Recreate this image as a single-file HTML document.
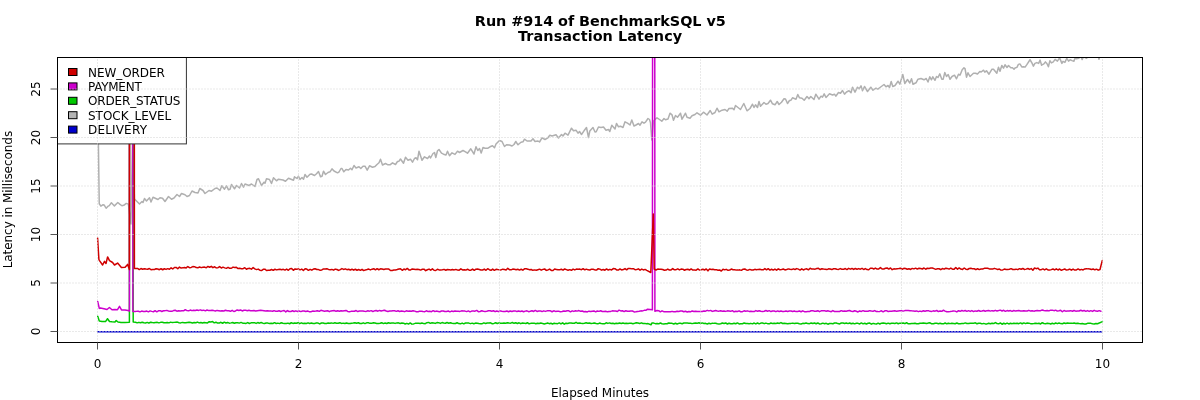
<!DOCTYPE html>
<html><head><meta charset="utf-8"><title>Transaction Latency</title>
<style>html,body{margin:0;padding:0;background:#fff;width:1200px;height:400px;overflow:hidden}svg{display:block}</style>
</head><body>
<svg width="1200" height="400" viewBox="0 0 1200 400">
<rect width="1200" height="400" fill="#fff"/>
<defs><clipPath id="c"><rect x="57.5" y="57.5" width="1085" height="285"/></clipPath></defs>
<g clip-path="url(#c)" stroke-linejoin="round" stroke-linecap="round" fill="none" stroke-width="1.5">
<path d="M97.60,87.00 L99.25,203.75 L100.90,206.10 L103.10,204.70 L104.40,205.30 L106.10,208.25 L107.80,206.40 L109.25,205.60 L111.40,202.80 L114.40,205.90 L117.80,202.50 L120.00,204.40 L121.90,205.75 L123.75,205.30 L126.25,203.40 L128.40,204.10 L130.90,224.00 L132.60,135.00 L134.50,200.50 L135.00,199.50 L139.50,204.00 L142.00,201.50 L143.00,202.50 L144.50,198.50 L146.50,201.00 L149.50,197.80 L151.00,202.00 L153.00,197.20 L158.00,199.50 L160.00,197.80 L162.50,198.20 L165.00,201.50 L168.50,196.50 L171.50,199.20 L174.00,198.00 L177.00,194.50 L179.50,196.50 L181.50,193.50 L185.00,194.80 L187.00,196.50 L189.50,195.50 L192.00,191.00 L195.00,192.50 L198.00,193.00 L199.80,188.50 L203.00,190.50 L205.00,193.50 L209.00,190.50 L211.50,191.20 L215.00,188.50 L217.00,188.00 L220.00,190.50 L221.80,185.80 L224.50,189.20 L226.50,185.80 L228.50,189.80 L230.00,189.20 L231.50,184.50 L234.50,188.80 L236.50,185.50 L239.50,188.00 L241.50,183.50 L243.50,187.20 L245.00,184.00 L249.00,185.50 L251.50,184.00 L255.00,186.50 L257.00,179.50 L258.50,178.80 L261.50,185.50 L264.00,182.20 L265.00,183.20 L266.50,178.80 L269.50,179.50 L271.50,183.50 L273.50,177.80 L276.50,180.80 L278.50,179.20 L283.00,180.00 L285.50,181.20 L288.50,178.20 L293.50,180.20 L294.50,176.80 L297.00,178.50 L298.50,176.20 L300.00,179.50 L302.00,177.50 L303.50,179.20 L305.00,174.50 L307.00,177.20 L310.00,174.20 L311.50,174.00 L314.50,175.50 L316.50,173.80 L318.50,171.50 L320.50,176.80 L322.00,176.20 L323.50,171.20 L325.50,174.50 L328.00,172.50 L330.00,171.80 L332.00,168.80 L334.00,171.00 L337.50,172.80 L339.00,172.00 L341.00,168.50 L342.00,168.50 L343.80,171.80 L346.00,169.50 L348.50,170.00 L350.50,168.20 L352.00,169.80 L354.00,165.50 L356.00,168.00 L359.00,166.80 L360.80,168.50 L363.00,166.20 L365.00,166.20 L367.20,170.20 L369.50,165.80 L372.50,167.20 L375.00,166.60 L377.00,164.50 L379.00,162.80 L380.50,159.20 L382.50,165.00 L385.50,163.50 L388.00,164.80 L390.00,164.80 L392.50,162.80 L395.50,164.50 L397.50,161.50 L399.00,161.20 L400.50,159.00 L403.50,163.20 L405.50,157.20 L408.00,160.20 L410.50,159.20 L412.50,162.20 L414.50,158.50 L416.00,157.80 L417.50,159.80 L419.00,151.20 L422.00,160.20 L424.50,156.80 L427.50,158.50 L429.50,156.00 L430.50,158.00 L433.00,153.50 L434.50,152.50 L435.80,157.50 L437.50,150.80 L439.00,149.50 L441.50,153.20 L443.50,154.20 L446.00,155.00 L447.50,151.20 L449.50,155.80 L452.00,152.80 L455.00,154.40 L457.50,151.20 L459.50,152.50 L463.00,150.50 L465.50,151.80 L467.50,153.20 L470.80,148.80 L474.00,154.00 L476.00,146.80 L477.80,150.50 L479.50,148.50 L481.20,153.00 L483.00,147.50 L485.00,148.20 L488.00,148.20 L490.00,146.80 L492.50,145.80 L494.50,147.80 L496.00,144.00 L499.50,140.50 L502.00,141.50 L504.50,146.50 L506.50,144.80 L509.50,145.00 L512.00,146.00 L514.00,144.50 L515.80,141.50 L518.00,144.80 L521.00,142.20 L523.00,141.80 L524.50,139.20 L527.00,141.00 L531.00,141.00 L533.00,138.80 L535.00,141.50 L538.00,141.00 L539.50,142.00 L542.00,137.80 L545.00,139.50 L547.50,138.20 L549.80,135.20 L552.00,136.00 L556.00,134.80 L558.50,138.00 L561.50,134.50 L563.00,136.00 L565.00,133.20 L568.00,135.20 L571.50,128.20 L573.50,130.80 L576.00,130.20 L578.00,133.20 L579.50,131.50 L581.50,134.50 L584.00,130.80 L586.50,127.50 L588.50,137.50 L589.80,131.00 L593.00,127.50 L595.00,132.00 L596.20,131.80 L598.50,127.00 L601.00,127.50 L603.50,127.00 L606.00,130.20 L608.50,129.50 L609.80,131.50 L611.80,125.20 L615.00,129.00 L616.50,123.50 L618.50,126.80 L620.50,126.20 L623.00,127.50 L625.00,121.80 L627.50,123.20 L630.00,125.00 L631.80,120.00 L634.00,126.00 L636.00,125.00 L638.50,123.50 L640.00,125.20 L642.00,121.80 L644.00,123.20 L645.50,122.20 L648.00,118.50 L649.50,119.50 L650.50,122.80 L651.80,140.00 L653.50,121.00 L654.50,120.00 L657.00,117.80 L659.50,119.50 L661.80,121.20 L664.00,118.50 L665.50,119.80 L668.00,119.00 L670.00,113.20 L672.00,114.80 L673.50,120.20 L675.50,115.50 L677.50,117.20 L680.50,113.20 L682.00,119.20 L685.50,113.20 L687.00,117.20 L690.00,118.20 L692.00,115.80 L695.00,114.50 L697.00,112.80 L700.50,115.20 L703.50,112.20 L707.00,115.00 L710.20,110.50 L712.20,114.20 L715.00,112.50 L717.00,108.20 L719.00,111.80 L722.00,110.20 L725.00,109.50 L727.20,111.20 L729.00,108.50 L732.50,108.20 L734.00,109.80 L735.50,105.50 L740.50,109.50 L743.80,103.50 L747.00,110.80 L750.00,108.50 L752.50,104.20 L754.00,107.50 L755.50,104.80 L757.50,107.50 L759.00,101.50 L760.50,106.20 L764.00,102.50 L766.00,104.20 L768.00,103.50 L770.50,100.20 L772.50,103.80 L775.00,104.80 L777.20,101.50 L779.00,104.50 L781.50,102.20 L784.00,98.80 L785.50,99.00 L787.50,103.50 L789.50,100.50 L791.00,100.20 L792.50,97.80 L796.00,99.20 L797.80,94.50 L799.50,97.80 L802.00,98.20 L804.20,100.20 L807.00,96.50 L809.00,98.80 L810.80,96.50 L814.00,99.50 L815.80,94.20 L819.00,99.20 L821.00,96.20 L822.50,97.20 L824.20,93.80 L826.00,97.50 L829.50,93.80 L832.50,95.00 L834.50,94.20 L835.80,96.20 L838.50,92.50 L840.50,93.20 L842.50,90.50 L844.50,94.20 L846.50,92.00 L849.00,90.80 L851.00,92.80 L852.50,87.20 L855.00,92.10 L857.50,87.20 L859.20,88.80 L861.00,85.80 L862.50,90.80 L864.50,86.50 L867.50,91.50 L870.80,87.20 L873.00,90.20 L876.00,88.20 L877.80,89.20 L880.00,87.50 L884.00,84.50 L886.00,86.80 L888.00,85.50 L889.50,87.50 L891.20,81.50 L892.80,86.50 L895.00,85.50 L898.00,81.20 L899.80,84.20 L902.80,74.50 L904.80,83.50 L907.50,79.50 L909.80,83.00 L911.50,78.80 L913.00,84.20 L916.00,82.80 L918.00,79.20 L921.00,78.50 L924.00,79.80 L926.20,78.50 L928.00,82.00 L929.80,76.80 L931.50,79.80 L932.80,76.80 L935.00,80.30 L936.50,76.50 L938.00,77.50 L939.80,73.80 L941.80,79.20 L943.20,79.20 L944.80,72.50 L946.50,76.50 L948.20,74.50 L950.00,79.20 L952.00,76.50 L954.50,75.20 L956.50,78.80 L958.50,74.20 L960.00,75.20 L962.20,69.80 L964.00,67.80 L965.00,68.50 L966.50,77.20 L968.00,72.80 L970.00,76.50 L973.50,73.20 L975.50,73.20 L977.50,74.00 L979.80,71.50 L981.20,72.00 L983.50,70.20 L984.80,72.20 L986.50,70.80 L989.00,74.20 L992.00,69.20 L993.50,69.20 L996.80,73.20 L998.50,67.20 L1000.00,71.20 L1001.80,65.50 L1003.50,68.20 L1005.00,64.80 L1007.00,67.50 L1008.50,65.50 L1010.80,67.80 L1012.50,67.80 L1014.00,69.20 L1015.00,68.00 L1016.90,67.40 L1018.40,64.40 L1019.90,63.90 L1021.80,66.90 L1023.60,66.70 L1025.10,67.10 L1027.00,64.40 L1030.00,59.75 L1031.90,62.90 L1033.40,66.10 L1034.90,63.40 L1036.80,62.60 L1038.60,63.40 L1040.10,60.10 L1041.60,65.20 L1043.90,63.90 L1045.40,61.90 L1046.90,63.50 L1048.40,66.70 L1049.90,60.65 L1051.40,62.90 L1053.30,61.90 L1055.10,59.40 L1057.40,61.10 L1059.60,57.90 L1061.90,63.40 L1063.00,61.40 L1064.90,62.40 L1066.80,58.40 L1068.60,61.10 L1070.10,59.75 L1072.00,60.65 L1073.90,61.25 L1075.00,58.25 L1076.50,58.85 L1078.80,58.25 L1081.00,56.50 L1082.10,59.60 L1083.60,56.50 L1085.00,57.50 L1086.60,58.30 L1088.10,56.00 L1090.00,53.50 L1092.00,55.50 L1094.00,53.50 L1096.00,55.00 L1098.00,55.50 L1099.00,59.20 L1100.20,55.00 L1102.50,54.00" stroke="#b0b0b0"/>
<path d="M97.80,331.75 L1101.50,331.75" stroke="#0000cd" stroke-width="1.7"/>
<path d="M97.70,316.25 L99.30,321.10 L102.00,321.40 L105.50,321.60 L107.50,318.70 L109.50,321.50 L112.00,321.80 L115.00,322.00 L116.20,320.60 L118.00,322.00 L121.00,322.50 L125.00,322.40 L129.40,322.30 L129.70,-300.00 L132.60,-300.00 L133.20,321.90 L135.50,322.22 L137.18,322.87 L138.85,322.36 L140.53,322.79 L142.20,322.28 L143.88,322.82 L145.55,322.93 L147.23,322.39 L148.90,323.18 L150.58,322.22 L152.25,322.57 L153.93,322.75 L155.60,322.44 L157.28,322.35 L158.95,322.91 L160.63,322.37 L162.30,322.31 L163.98,322.84 L165.65,322.76 L167.33,322.48 L169.00,322.86 L170.68,322.13 L172.35,322.61 L174.03,322.38 L175.70,322.18 L177.38,322.12 L179.05,322.76 L180.73,322.91 L182.40,322.38 L184.08,322.80 L185.75,322.77 L187.43,322.43 L189.10,322.19 L190.78,322.56 L192.45,323.07 L194.13,322.53 L195.80,322.81 L197.48,322.10 L199.15,322.88 L200.83,322.48 L202.50,323.06 L204.18,322.46 L205.85,322.64 L207.53,322.91 L209.20,321.73 L210.88,321.94 L212.55,321.58 L214.23,322.83 L215.90,322.19 L217.58,323.10 L219.25,323.12 L220.93,322.29 L222.60,323.24 L224.28,322.19 L225.95,323.01 L227.63,322.52 L229.30,323.15 L230.98,322.88 L232.65,322.54 L234.33,323.29 L236.00,322.68 L237.68,322.79 L239.35,323.12 L241.03,322.40 L242.70,323.16 L244.38,323.16 L246.05,323.39 L247.73,322.58 L249.40,323.48 L251.08,322.85 L252.75,322.86 L254.43,322.64 L256.10,323.39 L257.78,322.57 L259.45,323.17 L261.13,322.54 L262.80,323.17 L264.48,323.44 L266.15,322.95 L267.83,323.12 L269.50,323.51 L271.18,323.21 L272.85,323.45 L274.53,322.69 L276.20,323.51 L277.88,323.14 L279.55,323.61 L281.23,322.77 L282.90,323.21 L284.58,323.54 L286.25,323.53 L287.93,323.14 L289.60,323.74 L291.28,322.75 L292.95,323.42 L294.63,322.95 L296.30,323.20 L297.98,322.67 L299.65,323.70 L301.33,322.87 L303.00,323.45 L304.68,323.14 L306.35,323.42 L308.03,322.86 L309.70,323.46 L311.38,323.09 L313.05,323.49 L314.73,323.42 L316.40,322.87 L318.08,323.09 L319.75,323.95 L321.43,323.01 L323.10,323.06 L324.78,323.42 L326.45,323.53 L328.13,323.10 L329.80,323.34 L331.48,322.90 L333.15,323.36 L334.83,322.73 L336.50,323.23 L338.18,323.30 L339.85,322.78 L341.53,323.39 L343.20,323.13 L344.88,323.55 L346.55,322.95 L348.23,323.43 L349.90,323.52 L351.58,323.19 L353.25,323.06 L354.93,322.69 L356.60,323.26 L358.28,322.72 L359.95,323.52 L361.63,323.47 L363.30,322.84 L364.98,323.62 L366.65,322.84 L368.33,322.81 L370.00,323.37 L371.68,323.37 L373.35,322.75 L375.03,323.05 L376.70,323.49 L378.38,323.60 L380.05,323.30 L381.73,322.68 L383.40,323.62 L385.08,323.09 L386.75,323.54 L388.43,322.81 L390.10,323.23 L391.78,322.90 L393.45,322.99 L395.13,323.39 L396.80,322.88 L398.48,322.85 L400.15,323.43 L401.83,323.07 L403.50,323.14 L405.18,323.95 L406.85,323.37 L408.53,324.04 L410.20,322.98 L411.88,324.13 L413.55,323.91 L415.23,323.37 L416.90,323.30 L418.58,323.24 L420.25,323.49 L421.93,323.04 L423.60,323.62 L425.28,323.69 L426.95,322.72 L428.63,322.38 L430.30,323.34 L431.98,322.79 L433.65,322.91 L435.33,323.40 L437.00,322.59 L438.68,322.68 L440.35,323.38 L442.03,322.60 L443.70,323.02 L445.38,323.26 L447.05,322.55 L448.73,323.24 L450.40,322.76 L452.08,323.15 L453.75,323.41 L455.43,323.44 L457.10,322.72 L458.78,323.56 L460.45,323.82 L462.13,323.06 L463.80,323.84 L465.48,323.01 L467.15,323.03 L468.83,323.10 L470.50,323.63 L472.18,323.13 L473.85,323.68 L475.53,323.11 L477.20,323.30 L478.88,323.59 L480.55,323.69 L482.23,323.63 L483.90,322.87 L485.58,323.47 L487.25,322.94 L488.93,322.98 L490.60,322.85 L492.28,323.72 L493.95,323.42 L495.63,322.74 L497.30,323.52 L498.98,322.86 L500.65,323.24 L502.33,323.26 L504.00,322.91 L505.68,323.23 L507.35,322.78 L509.03,323.01 L510.70,323.16 L512.38,322.47 L514.05,323.32 L515.73,322.77 L517.40,323.44 L519.08,322.79 L520.75,323.68 L522.43,322.96 L524.10,323.14 L525.78,323.50 L527.45,322.76 L529.13,323.77 L530.80,323.36 L532.48,323.20 L534.15,323.13 L535.83,323.76 L537.50,323.20 L539.18,323.53 L540.85,323.10 L542.53,323.39 L544.20,323.99 L545.88,323.60 L547.55,322.99 L549.23,323.66 L550.90,323.24 L552.58,323.95 L554.25,323.16 L555.93,323.62 L557.60,323.66 L559.28,322.93 L560.95,323.92 L562.63,322.86 L564.30,324.20 L565.98,323.15 L567.65,323.45 L569.33,323.04 L571.00,322.90 L572.68,323.33 L574.35,323.37 L576.03,322.34 L577.70,323.36 L579.38,323.09 L581.05,323.32 L582.73,323.45 L584.40,323.16 L586.08,322.82 L587.75,323.31 L589.43,322.97 L591.10,323.47 L592.78,323.31 L594.45,323.04 L596.13,323.54 L597.80,323.86 L599.48,323.09 L601.15,323.58 L602.83,323.68 L604.50,323.79 L606.17,322.79 L607.85,323.39 L609.52,322.89 L611.20,323.56 L612.87,323.22 L614.55,323.80 L616.22,323.28 L617.90,323.51 L619.57,322.96 L621.25,323.44 L622.92,323.06 L624.60,323.52 L626.27,323.33 L627.95,323.48 L629.62,323.37 L631.30,323.30 L632.97,323.67 L634.65,323.28 L636.32,322.80 L638.00,323.06 L639.67,323.44 L641.35,322.84 L643.02,323.53 L644.70,323.38 L646.37,323.68 L648.05,323.62 L651.00,324.80 L652.00,322.94 L653.67,323.09 L655.35,323.64 L657.02,323.58 L658.70,323.83 L660.37,323.05 L662.05,323.77 L663.72,323.89 L665.40,323.79 L667.07,323.78 L668.75,322.98 L670.42,323.33 L672.10,323.34 L673.77,323.93 L675.45,323.26 L677.12,323.97 L678.80,323.35 L680.47,323.32 L682.15,323.69 L683.82,323.05 L685.50,322.96 L687.17,322.97 L688.85,323.16 L690.52,323.18 L692.20,323.62 L693.87,323.29 L695.55,322.97 L697.22,323.34 L698.90,322.71 L700.57,323.54 L702.25,322.89 L703.92,323.44 L705.60,323.35 L707.27,323.93 L708.95,323.32 L710.62,323.83 L712.30,323.16 L713.97,323.37 L715.65,323.19 L717.32,323.81 L719.00,323.96 L720.67,323.76 L722.35,323.03 L724.02,323.50 L725.70,322.97 L727.37,323.99 L729.05,323.30 L730.72,323.77 L732.40,323.80 L734.07,323.28 L735.75,323.76 L737.42,322.94 L739.10,323.94 L740.77,323.83 L742.45,323.70 L744.12,323.05 L745.80,323.55 L747.47,323.42 L749.15,323.67 L750.82,323.37 L752.50,323.85 L754.17,323.04 L755.85,323.93 L757.52,323.02 L759.20,323.84 L760.87,323.10 L762.55,322.97 L764.22,323.65 L765.90,323.12 L767.57,323.63 L769.25,323.80 L770.92,322.97 L772.60,323.60 L774.27,323.30 L775.95,323.43 L777.62,323.09 L779.30,323.44 L780.97,322.55 L782.65,323.49 L784.32,323.30 L786.00,323.41 L787.67,323.74 L789.35,323.45 L791.02,323.38 L792.70,323.12 L794.37,323.54 L796.05,323.15 L797.72,323.26 L799.40,323.76 L801.07,323.95 L802.75,323.35 L804.42,323.51 L806.10,322.94 L807.77,323.62 L809.45,323.66 L811.12,322.96 L812.80,323.54 L814.47,322.96 L816.15,323.72 L817.82,323.00 L819.50,323.93 L821.17,323.70 L822.85,323.14 L824.52,323.67 L826.20,323.36 L827.87,324.20 L829.55,323.53 L831.22,323.54 L832.90,323.75 L834.57,323.01 L836.25,322.94 L837.92,323.58 L839.60,323.95 L841.27,323.03 L842.95,323.01 L844.62,323.56 L846.30,323.09 L847.97,323.60 L849.65,322.99 L851.32,323.79 L853.00,323.22 L854.67,323.87 L856.35,323.30 L858.02,323.36 L859.70,323.95 L861.37,322.96 L863.05,323.84 L864.72,323.25 L866.40,323.93 L868.07,323.26 L869.75,323.08 L871.42,324.19 L873.10,323.37 L874.77,323.79 L876.45,323.99 L878.12,323.14 L879.80,323.97 L881.47,323.14 L883.15,322.96 L884.82,323.30 L886.50,323.75 L888.17,323.13 L889.85,323.75 L891.52,323.23 L893.20,323.24 L894.87,323.53 L896.55,322.92 L898.22,323.78 L899.90,323.16 L901.57,323.29 L903.25,323.02 L904.92,323.65 L906.60,322.74 L908.27,323.84 L909.95,323.79 L911.62,323.59 L913.30,323.52 L914.97,323.21 L916.65,323.79 L918.32,323.66 L920.00,323.19 L921.67,323.18 L923.35,322.89 L925.02,323.21 L926.70,323.59 L928.37,323.05 L930.05,322.76 L931.72,323.85 L933.40,323.71 L935.07,323.23 L936.75,323.36 L938.42,323.66 L940.10,323.25 L941.77,323.73 L943.45,323.83 L945.12,322.98 L946.80,323.81 L948.47,323.24 L950.15,323.62 L951.82,323.25 L953.50,323.40 L955.17,323.74 L956.85,323.07 L958.52,323.73 L960.20,323.84 L961.87,323.59 L963.55,323.58 L965.22,322.91 L966.90,323.57 L968.57,323.54 L970.25,323.16 L971.92,323.13 L973.60,323.35 L975.27,322.80 L976.95,323.76 L978.62,323.21 L980.30,323.28 L981.97,323.87 L983.65,323.38 L985.32,323.89 L987.00,323.91 L988.67,323.28 L990.35,323.75 L992.02,323.19 L993.70,323.57 L995.37,322.58 L997.05,323.52 L998.72,323.82 L1000.40,322.92 L1002.07,324.25 L1003.75,323.25 L1005.42,323.95 L1007.10,323.07 L1008.77,323.92 L1010.45,323.33 L1012.12,323.65 L1013.80,323.18 L1015.47,323.53 L1017.15,323.30 L1018.82,323.69 L1020.50,322.91 L1022.17,323.78 L1023.85,322.92 L1025.52,323.62 L1027.20,323.05 L1028.87,323.15 L1030.55,323.65 L1032.22,323.71 L1033.90,323.57 L1035.57,323.36 L1037.25,323.61 L1038.92,323.27 L1040.60,323.95 L1042.27,322.70 L1043.95,323.51 L1045.62,323.68 L1047.30,323.32 L1048.97,323.41 L1050.65,323.97 L1052.32,323.32 L1054.00,323.88 L1055.67,323.02 L1057.35,323.63 L1059.02,323.08 L1060.70,323.62 L1062.37,323.68 L1064.05,323.00 L1065.72,323.51 L1067.40,323.02 L1069.07,323.23 L1070.75,323.29 L1072.42,323.37 L1074.10,322.96 L1075.77,323.49 L1077.45,323.17 L1079.12,323.53 L1080.80,323.72 L1082.47,323.58 L1084.15,323.93 L1085.82,324.05 L1087.50,323.32 L1089.17,323.34 L1090.85,323.36 L1092.52,323.83 L1094.20,323.91 L1095.87,323.47 L1097.55,323.76 L1102.40,321.60" stroke="#00c800"/>
<path d="M97.70,301.40 L99.30,308.40 L100.50,308.00 L104.00,308.80 L107.00,309.50 L109.40,307.50 L112.00,309.70 L115.00,309.40 L117.50,309.70 L119.50,306.40 L121.50,309.90 L125.00,310.00 L128.00,310.50 L129.40,311.00 L129.60,-300.00 L132.50,-300.00 L132.90,311.50 L135.00,311.38 L136.68,311.36 L138.35,311.18 L140.03,311.85 L141.70,311.07 L143.38,311.41 L145.05,311.43 L146.73,311.08 L148.40,311.85 L150.08,310.88 L151.75,311.36 L153.43,311.74 L155.10,310.73 L156.78,311.85 L158.45,310.85 L160.13,310.67 L161.80,311.50 L163.48,310.73 L165.15,310.63 L166.83,310.39 L168.50,310.94 L170.18,311.23 L171.85,311.32 L173.53,310.56 L175.20,310.24 L176.88,311.16 L178.55,310.70 L180.23,311.01 L181.90,310.74 L183.58,310.79 L185.25,309.65 L186.93,310.63 L188.60,310.85 L190.28,310.06 L191.95,310.64 L193.63,310.26 L195.30,310.52 L196.98,309.98 L198.65,310.40 L200.33,309.86 L202.00,310.44 L203.68,310.13 L205.35,310.83 L207.03,310.05 L208.70,310.62 L210.38,310.54 L212.05,310.36 L213.73,310.61 L215.40,311.02 L217.08,310.40 L218.75,310.68 L220.43,311.08 L222.10,310.77 L223.78,311.03 L225.45,310.30 L227.13,310.76 L228.80,310.78 L230.48,311.28 L232.15,310.29 L233.83,311.49 L235.50,310.93 L237.18,309.97 L238.85,310.48 L240.53,309.98 L242.20,310.98 L243.88,310.30 L245.55,310.14 L247.23,310.66 L248.90,310.32 L250.58,310.72 L252.25,310.84 L253.93,310.46 L255.60,311.00 L257.28,310.77 L258.95,310.53 L260.63,310.27 L262.30,310.43 L263.98,310.74 L265.65,311.02 L267.33,310.68 L269.00,311.08 L270.68,310.87 L272.35,311.17 L274.03,310.66 L275.70,311.19 L277.38,311.26 L279.05,310.77 L280.73,311.46 L282.40,310.89 L284.08,310.53 L285.75,311.86 L287.43,310.56 L289.10,311.50 L290.78,311.59 L292.45,310.72 L294.13,311.44 L295.80,310.84 L297.48,311.55 L299.15,311.08 L300.83,311.60 L302.50,310.99 L304.18,310.98 L305.85,311.40 L307.53,310.98 L309.20,311.63 L310.88,311.73 L312.55,311.10 L314.23,311.33 L315.90,311.07 L317.58,310.71 L319.25,311.33 L320.93,310.31 L322.60,310.64 L324.28,311.22 L325.95,310.91 L327.63,310.69 L329.30,311.65 L330.98,310.92 L332.65,310.72 L334.33,310.57 L336.00,311.29 L337.68,310.72 L339.35,311.16 L341.03,310.71 L342.70,311.07 L344.38,310.71 L346.05,310.47 L347.73,311.46 L349.40,311.69 L351.08,311.37 L352.75,311.27 L354.43,311.28 L356.10,310.56 L357.78,311.56 L359.45,311.02 L361.13,311.10 L362.80,311.00 L364.48,311.33 L366.15,311.41 L367.83,310.80 L369.50,311.15 L371.18,310.65 L372.85,311.46 L374.53,310.84 L376.20,310.57 L377.88,311.18 L379.55,310.42 L381.23,310.93 L382.90,310.60 L384.58,310.20 L386.25,310.96 L387.93,311.46 L389.60,310.96 L391.28,311.03 L392.95,310.78 L394.63,310.76 L396.30,311.34 L397.98,310.79 L399.65,311.46 L401.33,311.06 L403.00,311.23 L404.68,311.63 L406.35,310.83 L408.03,311.23 L409.70,311.01 L411.38,311.31 L413.05,310.69 L414.73,311.15 L416.40,311.75 L418.08,311.67 L419.75,311.12 L421.43,311.33 L423.10,311.58 L424.78,311.69 L426.45,310.80 L428.13,311.56 L429.80,311.24 L431.48,311.66 L433.15,310.69 L434.83,311.52 L436.50,311.11 L438.18,311.39 L439.85,311.72 L441.53,311.01 L443.20,310.92 L444.88,311.51 L446.55,311.42 L448.23,310.99 L449.90,311.81 L451.58,311.06 L453.25,311.49 L454.93,310.99 L456.60,311.35 L458.28,311.24 L459.95,311.39 L461.63,310.84 L463.30,310.96 L464.98,311.11 L466.65,311.61 L468.33,310.90 L470.00,311.84 L471.68,311.08 L473.35,311.03 L475.03,311.19 L476.70,310.39 L478.38,311.71 L480.05,311.49 L481.73,310.75 L483.40,311.33 L485.08,311.59 L486.75,311.20 L488.43,310.73 L490.10,310.70 L491.78,311.23 L493.45,310.74 L495.13,311.64 L496.80,310.99 L498.48,311.64 L500.15,310.87 L501.83,311.28 L503.50,311.47 L505.18,311.41 L506.85,311.05 L508.53,311.74 L510.20,310.98 L511.88,311.57 L513.55,310.96 L515.23,310.91 L516.90,311.58 L518.58,310.99 L520.25,311.43 L521.93,311.04 L523.60,311.77 L525.28,311.13 L526.95,310.86 L528.63,311.69 L530.30,311.24 L531.98,310.72 L533.65,311.46 L535.33,310.41 L537.00,311.42 L538.68,310.94 L540.35,310.89 L542.03,311.57 L543.70,310.86 L545.38,311.40 L547.05,310.86 L548.73,310.75 L550.40,310.83 L552.08,311.76 L553.75,310.80 L555.43,311.41 L557.10,311.21 L558.78,311.31 L560.45,311.85 L562.13,311.57 L563.80,310.98 L565.48,311.34 L567.15,310.83 L568.83,310.79 L570.50,311.81 L572.18,310.86 L573.85,311.41 L575.53,310.78 L577.20,311.12 L578.88,310.59 L580.55,311.24 L582.23,311.04 L583.90,311.78 L585.58,311.47 L587.25,311.91 L588.93,311.15 L590.60,311.56 L592.28,311.19 L593.95,310.89 L595.63,311.86 L597.30,310.98 L598.98,311.36 L600.65,310.79 L602.33,311.51 L604.00,311.45 L605.68,311.20 L607.35,311.83 L609.02,311.52 L610.70,311.41 L612.37,310.84 L614.05,311.02 L615.72,310.96 L617.40,311.50 L619.07,310.16 L620.75,310.94 L622.42,310.74 L624.10,311.61 L625.77,310.78 L627.45,311.31 L629.12,311.33 L630.80,310.96 L632.47,311.03 L634.15,311.88 L635.82,311.70 L637.50,311.43 L639.17,311.29 L640.85,310.86 L642.52,310.89 L644.20,310.34 L645.87,310.32 L647.55,309.20 L650.00,309.50 L652.40,309.80 L652.80,-300.00 L654.60,-300.00 L654.90,311.30 L657.00,310.54 L658.67,310.71 L660.35,311.80 L662.02,310.88 L663.70,311.68 L665.37,311.74 L667.05,311.79 L668.72,311.64 L670.40,311.83 L672.07,311.37 L673.75,311.67 L675.42,311.83 L677.10,311.25 L678.77,311.53 L680.45,311.03 L682.12,310.97 L683.80,311.70 L685.47,311.18 L687.15,312.00 L688.82,311.47 L690.50,311.84 L692.17,310.95 L693.85,311.49 L695.52,311.20 L697.20,311.54 L698.87,311.43 L700.55,311.59 L702.22,311.45 L703.90,310.94 L705.57,311.17 L707.25,310.35 L708.92,310.88 L710.60,310.39 L712.27,311.40 L713.95,310.92 L715.62,310.43 L717.30,310.94 L718.97,311.13 L720.65,310.75 L722.32,311.22 L724.00,310.93 L725.67,311.38 L727.35,310.86 L729.02,311.09 L730.70,311.36 L732.37,310.65 L734.05,311.78 L735.72,311.30 L737.40,311.43 L739.07,310.86 L740.75,311.73 L742.42,311.69 L744.10,310.82 L745.77,311.24 L747.45,310.87 L749.12,311.38 L750.80,311.19 L752.47,311.42 L754.15,311.58 L755.82,310.60 L757.50,311.29 L759.17,310.71 L760.85,311.24 L762.52,311.55 L764.20,311.22 L765.87,310.56 L767.55,311.25 L769.22,310.66 L770.90,311.56 L772.57,310.94 L774.25,311.06 L775.92,311.66 L777.60,310.93 L779.27,311.51 L780.95,311.06 L782.62,311.40 L784.30,311.39 L785.97,310.99 L787.65,311.47 L789.32,311.06 L791.00,310.92 L792.67,311.49 L794.35,311.04 L796.02,311.60 L797.70,311.46 L799.37,310.98 L801.05,311.76 L802.72,310.85 L804.40,311.70 L806.07,311.65 L807.75,311.55 L809.42,311.59 L811.10,310.78 L812.77,310.67 L814.45,311.30 L816.12,311.22 L817.80,310.68 L819.47,311.65 L821.15,310.85 L822.82,310.75 L824.50,310.63 L826.17,311.28 L827.85,310.80 L829.52,311.34 L831.20,311.66 L832.87,310.52 L834.55,311.55 L836.22,311.57 L837.90,311.43 L839.57,311.53 L841.25,310.66 L842.92,311.24 L844.60,311.05 L846.27,311.20 L847.95,310.77 L849.62,310.56 L851.30,311.23 L852.97,311.46 L854.65,310.75 L856.32,311.30 L858.00,311.95 L859.67,310.95 L861.35,311.41 L863.02,310.64 L864.70,311.31 L866.37,311.32 L868.05,311.30 L869.72,310.67 L871.40,311.05 L873.07,311.25 L874.75,310.58 L876.42,311.59 L878.10,311.62 L879.77,311.41 L881.45,310.80 L883.12,311.85 L884.80,310.81 L886.47,310.69 L888.15,311.46 L889.82,311.15 L891.50,311.27 L893.17,310.95 L894.85,310.73 L896.52,311.36 L898.20,311.05 L899.87,310.87 L901.55,310.67 L903.22,311.11 L904.90,310.61 L906.57,310.49 L908.25,310.45 L909.92,310.79 L911.60,310.86 L913.27,310.89 L914.95,311.32 L916.62,310.93 L918.30,311.63 L919.97,311.10 L921.65,311.57 L923.32,310.67 L925.00,311.20 L926.67,310.81 L928.35,310.68 L930.02,311.37 L931.70,311.40 L933.37,310.84 L935.05,311.16 L936.72,310.50 L938.40,311.56 L940.07,311.08 L941.75,311.29 L943.42,310.25 L945.10,311.14 L946.77,311.79 L948.45,311.64 L950.12,311.45 L951.80,311.20 L953.47,310.91 L955.15,311.12 L956.82,311.91 L958.50,310.73 L960.17,311.31 L961.85,310.48 L963.52,311.11 L965.20,310.51 L966.87,311.33 L968.55,310.65 L970.22,311.43 L971.90,310.57 L973.57,311.54 L975.25,310.90 L976.92,311.23 L978.60,310.50 L980.27,311.28 L981.95,311.05 L983.62,310.50 L985.30,311.22 L986.97,310.63 L988.65,310.44 L990.32,311.10 L992.00,310.65 L993.67,311.06 L995.35,310.34 L997.02,310.97 L998.70,310.57 L1000.37,310.13 L1002.05,311.03 L1003.72,310.29 L1005.40,311.32 L1007.07,310.57 L1008.75,311.06 L1010.42,310.57 L1012.10,311.34 L1013.77,310.53 L1015.45,311.10 L1017.12,310.72 L1018.80,310.54 L1020.47,311.01 L1022.15,310.89 L1023.82,310.71 L1025.50,311.09 L1027.17,311.02 L1028.85,310.36 L1030.52,311.10 L1032.20,310.69 L1033.87,311.15 L1035.55,310.72 L1037.22,310.62 L1038.90,310.78 L1040.57,310.67 L1042.25,310.04 L1043.92,310.48 L1045.60,310.74 L1047.27,310.51 L1048.95,310.89 L1050.62,310.14 L1052.30,310.13 L1053.97,310.66 L1055.65,310.13 L1057.32,311.09 L1059.00,310.77 L1060.67,310.34 L1062.35,311.74 L1064.02,310.48 L1065.70,311.18 L1067.37,311.09 L1069.05,311.08 L1070.72,310.65 L1072.40,311.24 L1074.07,310.48 L1075.75,311.17 L1077.42,310.90 L1079.10,311.01 L1080.77,310.28 L1082.45,310.94 L1084.12,310.46 L1085.80,311.34 L1087.47,310.56 L1089.15,311.40 L1090.82,310.67 L1092.50,311.40 L1094.17,310.33 L1095.85,311.08 L1097.52,311.24 L1099.20,310.64 L1100.87,311.20" stroke="#cd00cd"/>
<path d="M97.60,238.10 L98.90,259.50 L99.50,260.60 L102.60,265.00 L104.50,261.30 L106.00,263.50 L107.60,256.90 L109.50,260.60 L112.60,262.50 L114.50,265.00 L117.60,263.10 L121.40,267.50 L125.10,267.30 L127.60,264.40 L129.40,269.50 L129.75,-300.00 L134.20,-300.00 L134.40,268.50 L135.90,268.55 L137.58,268.48 L139.25,269.53 L140.93,268.53 L142.60,269.28 L144.28,268.85 L145.95,269.11 L147.63,269.20 L149.30,268.51 L150.98,269.73 L152.65,269.42 L154.33,269.58 L156.00,268.75 L157.68,269.04 L159.35,269.72 L161.03,268.76 L162.70,269.76 L164.38,268.75 L166.05,269.40 L167.73,268.65 L169.40,269.30 L171.08,267.84 L172.75,268.97 L174.43,267.54 L176.10,267.43 L177.78,268.76 L179.45,267.04 L181.13,268.05 L182.80,267.87 L184.48,267.49 L186.15,267.93 L187.83,266.51 L189.50,267.65 L191.18,267.45 L192.85,266.62 L194.53,266.66 L196.20,267.58 L197.88,267.83 L199.55,266.94 L201.23,267.64 L202.90,267.26 L204.58,267.09 L206.25,267.75 L207.93,266.43 L209.60,267.26 L211.28,266.30 L212.95,267.63 L214.63,266.76 L216.30,267.88 L217.98,267.66 L219.65,266.61 L221.33,267.96 L223.00,267.13 L224.68,267.86 L226.35,268.28 L228.03,267.32 L229.70,268.28 L231.38,268.25 L233.05,267.11 L234.73,267.51 L236.40,267.32 L238.08,268.57 L239.75,268.35 L241.43,268.67 L243.10,268.73 L244.78,267.73 L246.45,269.28 L248.13,268.38 L249.80,268.31 L251.48,269.16 L253.15,267.58 L254.83,268.84 L256.50,269.60 L258.18,269.10 L259.85,270.23 L261.53,270.57 L263.20,269.36 L264.88,269.17 L266.55,270.54 L268.23,270.31 L269.90,270.21 L271.58,269.47 L273.25,270.32 L274.93,269.25 L276.60,269.89 L278.28,269.50 L279.95,269.20 L281.63,269.68 L283.30,269.34 L284.98,270.08 L286.65,269.01 L288.33,270.29 L290.00,268.77 L291.68,268.51 L293.35,270.31 L295.03,268.92 L296.70,269.33 L298.38,268.86 L300.05,269.83 L301.73,269.13 L303.40,270.42 L305.08,268.71 L306.75,269.06 L308.43,270.29 L310.10,269.31 L311.78,270.14 L313.45,269.06 L315.13,268.75 L316.80,269.52 L318.48,269.61 L320.15,270.17 L321.83,269.99 L323.50,268.93 L325.18,268.92 L326.85,268.71 L328.53,269.43 L330.20,269.71 L331.88,269.43 L333.55,270.18 L335.23,269.11 L336.90,269.51 L338.58,270.45 L340.25,269.61 L341.93,268.62 L343.60,269.45 L345.28,268.84 L346.95,269.70 L348.63,269.20 L350.30,269.98 L351.98,269.20 L353.65,270.22 L355.33,269.24 L357.00,270.24 L358.68,269.53 L360.35,270.31 L362.03,269.30 L363.70,270.59 L365.38,269.89 L367.05,269.58 L368.73,269.08 L370.40,269.88 L372.08,269.18 L373.75,268.72 L375.43,269.82 L377.10,268.68 L378.78,269.75 L380.45,268.85 L382.13,269.00 L383.80,269.57 L385.48,268.96 L387.15,269.03 L388.83,269.07 L390.50,270.46 L392.18,270.42 L393.85,270.02 L395.53,270.04 L397.20,269.57 L398.88,269.02 L400.55,268.82 L402.23,270.29 L403.90,269.04 L405.58,269.76 L407.25,268.43 L408.93,269.88 L410.60,269.96 L412.28,268.94 L413.95,269.21 L415.63,269.47 L417.30,269.35 L418.98,269.51 L420.65,270.11 L422.33,269.29 L424.00,269.16 L425.68,270.72 L427.35,269.73 L429.03,269.10 L430.70,270.24 L432.38,268.86 L434.05,270.27 L435.73,270.53 L437.40,269.24 L439.08,269.93 L440.75,269.94 L442.43,269.80 L444.10,269.38 L445.78,270.26 L447.45,269.53 L449.13,269.64 L450.80,270.02 L452.48,269.49 L454.15,269.90 L455.83,269.41 L457.50,270.10 L459.18,270.17 L460.85,268.83 L462.53,269.99 L464.20,269.80 L465.88,270.07 L467.55,269.29 L469.23,270.16 L470.90,270.23 L472.58,269.08 L474.25,270.35 L475.93,269.15 L477.60,269.02 L479.28,269.44 L480.95,270.05 L482.63,270.01 L484.30,269.09 L485.98,270.26 L487.65,268.67 L489.33,269.69 L491.00,270.32 L492.68,269.06 L494.35,270.35 L496.03,269.30 L497.70,269.61 L499.38,269.78 L501.05,269.89 L502.73,269.18 L504.40,269.57 L506.08,270.00 L507.75,268.34 L509.43,269.67 L511.10,269.85 L512.78,269.07 L514.45,269.26 L516.13,269.72 L517.80,269.30 L519.48,270.09 L521.15,269.23 L522.83,270.18 L524.50,268.87 L526.18,268.74 L527.85,269.15 L529.53,269.75 L531.20,269.46 L532.88,270.30 L534.55,269.89 L536.23,270.31 L537.90,269.75 L539.58,269.15 L541.25,270.18 L542.93,269.36 L544.60,268.91 L546.28,270.40 L547.95,269.95 L549.63,269.08 L551.30,270.39 L552.98,270.53 L554.65,269.04 L556.33,269.43 L558.00,269.78 L559.68,269.66 L561.35,269.27 L563.03,270.15 L564.70,268.94 L566.38,269.61 L568.05,270.29 L569.73,269.65 L571.40,270.32 L573.08,269.09 L574.75,269.91 L576.43,269.09 L578.10,269.28 L579.78,269.08 L581.45,269.70 L583.13,268.76 L584.80,269.80 L586.48,269.14 L588.15,269.85 L589.83,269.99 L591.50,269.13 L593.18,269.30 L594.85,269.91 L596.53,270.05 L598.20,268.69 L599.88,269.14 L601.55,270.15 L603.23,269.49 L604.90,270.19 L606.57,268.95 L608.25,270.03 L609.92,269.36 L611.60,269.94 L613.27,268.59 L614.95,268.69 L616.62,269.93 L618.30,270.12 L619.97,268.99 L621.65,269.92 L623.32,269.61 L625.00,268.56 L626.67,269.82 L628.35,268.40 L630.02,268.50 L631.70,268.87 L633.37,268.68 L635.05,269.64 L636.72,269.53 L638.40,268.86 L640.07,270.14 L641.75,269.07 L643.42,269.95 L645.10,269.38 L646.77,270.34 L650.80,272.50 L653.30,214.00 L654.20,269.00 L656.00,270.01 L657.67,269.11 L659.35,269.34 L661.02,269.15 L662.70,269.50 L664.37,270.25 L666.05,270.04 L667.72,269.09 L669.40,269.99 L671.07,269.89 L672.75,268.59 L674.42,269.80 L676.10,269.66 L677.77,268.86 L679.45,269.92 L681.12,269.09 L682.80,269.21 L684.47,270.24 L686.15,269.51 L687.82,269.28 L689.50,270.00 L691.17,268.92 L692.85,270.08 L694.52,269.98 L696.20,270.13 L697.87,268.91 L699.55,270.02 L701.22,269.81 L702.90,269.24 L704.57,269.99 L706.25,268.95 L707.92,270.83 L709.60,269.06 L711.27,269.57 L712.95,269.32 L714.62,269.75 L716.30,269.66 L717.97,270.28 L719.65,270.00 L721.32,271.04 L723.00,269.24 L724.67,269.84 L726.35,269.37 L728.02,270.31 L729.70,270.01 L731.37,269.04 L733.05,269.68 L734.72,269.85 L736.40,270.12 L738.07,270.12 L739.75,269.85 L741.42,270.37 L743.10,269.23 L744.77,268.98 L746.45,269.96 L748.12,270.19 L749.80,269.39 L751.47,269.94 L753.15,270.01 L754.82,269.34 L756.50,269.66 L758.17,269.38 L759.85,269.33 L761.52,269.66 L763.20,269.79 L764.87,268.60 L766.55,269.85 L768.22,268.68 L769.90,270.08 L771.57,269.23 L773.25,270.11 L774.92,269.05 L776.60,270.18 L778.27,268.86 L779.95,269.72 L781.62,269.51 L783.30,269.04 L784.97,269.91 L786.65,269.51 L788.32,268.88 L790.00,269.33 L791.67,269.61 L793.35,268.83 L795.02,269.47 L796.70,268.62 L798.37,269.14 L800.05,270.04 L801.72,268.87 L803.40,269.99 L805.07,269.13 L806.75,268.78 L808.42,269.85 L810.10,268.25 L811.77,269.09 L813.45,269.02 L815.12,269.14 L816.80,268.55 L818.47,268.35 L820.15,269.53 L821.82,268.78 L823.50,269.11 L825.17,269.29 L826.85,269.61 L828.52,268.83 L830.20,269.01 L831.87,269.58 L833.55,268.80 L835.22,268.73 L836.90,269.33 L838.57,269.45 L840.25,268.59 L841.92,269.29 L843.60,269.34 L845.27,268.52 L846.95,269.53 L848.62,268.36 L850.30,269.14 L851.97,268.44 L853.65,269.46 L855.32,268.53 L857.00,269.21 L858.67,268.60 L860.35,269.20 L862.02,268.31 L863.70,269.51 L865.37,268.56 L867.05,269.53 L868.72,269.71 L870.40,268.30 L872.07,268.14 L873.75,268.99 L875.42,268.09 L877.10,269.08 L878.77,268.92 L880.45,267.62 L882.12,269.05 L883.80,269.04 L885.47,268.27 L887.15,267.99 L888.82,269.02 L890.50,267.92 L892.17,269.66 L893.85,268.82 L895.52,269.08 L897.20,268.81 L898.87,268.53 L900.55,268.17 L902.22,269.26 L903.90,268.35 L905.57,268.46 L907.25,269.25 L908.92,268.69 L910.60,269.46 L912.27,268.40 L913.95,268.89 L915.62,268.15 L917.30,269.10 L918.97,268.26 L920.65,268.57 L922.32,269.01 L924.00,268.00 L925.67,269.24 L927.35,268.22 L929.02,268.41 L930.70,268.06 L932.37,267.96 L934.05,268.66 L935.72,269.35 L937.40,268.76 L939.07,268.76 L940.75,269.70 L942.42,268.57 L944.10,269.14 L945.77,268.28 L947.45,268.61 L949.12,269.05 L950.80,268.09 L952.47,269.13 L954.15,269.13 L955.82,267.45 L957.50,269.20 L959.17,267.96 L960.85,269.10 L962.52,269.40 L964.20,267.99 L965.87,269.20 L967.55,269.48 L969.22,268.49 L970.90,268.32 L972.57,268.87 L974.25,268.74 L975.92,269.65 L977.60,268.71 L979.27,269.58 L980.95,268.94 L982.62,269.03 L984.30,268.35 L985.97,268.26 L987.65,268.22 L989.32,268.92 L991.00,268.91 L992.67,269.08 L994.35,268.35 L996.02,268.86 L997.70,269.43 L999.37,269.02 L1001.05,270.13 L1002.72,269.93 L1004.40,269.07 L1006.07,269.51 L1007.75,269.52 L1009.42,269.28 L1011.10,268.63 L1012.77,269.52 L1014.45,269.44 L1016.12,269.14 L1017.80,269.65 L1019.47,268.63 L1021.15,269.29 L1022.82,268.47 L1024.50,269.51 L1026.17,269.14 L1027.85,268.48 L1029.52,269.43 L1031.20,268.56 L1032.87,270.27 L1034.55,268.01 L1036.22,268.67 L1037.90,268.10 L1039.57,269.70 L1041.25,269.63 L1042.92,268.90 L1044.60,269.87 L1046.27,268.88 L1047.95,269.96 L1049.62,270.11 L1051.30,269.64 L1052.97,269.00 L1054.65,269.91 L1056.32,268.77 L1058.00,270.00 L1059.67,269.00 L1061.35,270.31 L1063.02,269.58 L1064.70,268.97 L1066.37,270.08 L1068.05,269.81 L1069.72,269.08 L1071.40,270.22 L1073.07,269.09 L1074.75,270.10 L1076.42,269.91 L1078.10,268.94 L1079.77,269.97 L1081.45,269.39 L1083.12,269.98 L1084.80,268.97 L1086.47,268.65 L1088.15,268.87 L1089.82,268.98 L1091.50,269.58 L1093.17,269.03 L1094.85,269.81 L1096.52,269.15 L1098.20,270.15 L1100.00,269.50 L1102.30,260.40" stroke="#d00000"/>
</g>
<rect x="57.5" y="57.5" width="128.9" height="86.4" fill="#fff" stroke="#333" stroke-width="1"/>
<rect x="68.5" y="68.5" width="8.5" height="7" fill="#d00000" stroke="#000" stroke-width="1"/>
<text x="88.00" y="76.5" font-family="DejaVu Sans, Liberation Sans, sans-serif" font-size="12" textLength="76.93" lengthAdjust="spacing">NEW_ORDER</text>
<rect x="68.5" y="82.9" width="8.5" height="7" fill="#cd00cd" stroke="#000" stroke-width="1"/>
<text x="88.00" y="90.9" font-family="DejaVu Sans, Liberation Sans, sans-serif" font-size="12" textLength="53.73" lengthAdjust="spacing">PAYMENT</text>
<rect x="68.5" y="97.3" width="8.5" height="7" fill="#00c800" stroke="#000" stroke-width="1"/>
<text x="88.00" y="105.3" font-family="DejaVu Sans, Liberation Sans, sans-serif" font-size="12" textLength="92.43" lengthAdjust="spacing">ORDER_STATUS</text>
<rect x="68.5" y="111.7" width="8.5" height="7" fill="#b4b4b4" stroke="#000" stroke-width="1"/>
<text x="88.00" y="119.7" font-family="DejaVu Sans, Liberation Sans, sans-serif" font-size="12" textLength="83.21" lengthAdjust="spacing">STOCK_LEVEL</text>
<rect x="68.5" y="126.1" width="8.5" height="7" fill="#0000cd" stroke="#000" stroke-width="1"/>
<text x="88.00" y="134.1" font-family="DejaVu Sans, Liberation Sans, sans-serif" font-size="12" textLength="58.97" lengthAdjust="spacing">DELIVERY</text>
<path d="M97.5,57.5 V342.5 M298.5,57.5 V342.5 M499.5,57.5 V342.5 M700.5,57.5 V342.5 M901.5,57.5 V342.5 M1102.5,57.5 V342.5" stroke="#d3d3d3" stroke-opacity="0.5" stroke-width="1" stroke-dasharray="2,1" fill="none" stroke-dashoffset="1.5"/>
<path d="M57.5,331.5 H1142.5 M57.5,283.0 H1142.5 M57.5,234.5 H1142.5 M57.5,186.0 H1142.5 M57.5,137.5 H1142.5 M57.5,89.0 H1142.5" stroke="#d3d3d3" stroke-opacity="0.5" stroke-width="1" stroke-dasharray="2,1" fill="none" stroke-dashoffset="0.5"/>
<rect x="57.5" y="57.5" width="1085" height="285" fill="none" stroke="#000" stroke-width="1"/>
<path d="M97.5,342.5 V349.5 M298.5,342.5 V349.5 M499.5,342.5 V349.5 M700.5,342.5 V349.5 M901.5,342.5 V349.5 M1102.5,342.5 V349.5 M57.5,331.5 H50.5 M57.5,283.0 H50.5 M57.5,234.5 H50.5 M57.5,186.0 H50.5 M57.5,137.5 H50.5 M57.5,89.0 H50.5" stroke="#555" stroke-width="1" fill="none"/>
<text x="97.5" y="368" font-family="DejaVu Sans, Liberation Sans, sans-serif" font-size="12" text-anchor="middle">0</text>
<text x="298.5" y="368" font-family="DejaVu Sans, Liberation Sans, sans-serif" font-size="12" text-anchor="middle">2</text>
<text x="499.5" y="368" font-family="DejaVu Sans, Liberation Sans, sans-serif" font-size="12" text-anchor="middle">4</text>
<text x="700.5" y="368" font-family="DejaVu Sans, Liberation Sans, sans-serif" font-size="12" text-anchor="middle">6</text>
<text x="901.5" y="368" font-family="DejaVu Sans, Liberation Sans, sans-serif" font-size="12" text-anchor="middle">8</text>
<text x="1102.5" y="368" font-family="DejaVu Sans, Liberation Sans, sans-serif" font-size="12" text-anchor="middle">10</text>
<text transform="translate(40.4,331.5) rotate(-90)" font-family="DejaVu Sans, Liberation Sans, sans-serif" font-size="12" text-anchor="middle">0</text>
<text transform="translate(40.4,283.0) rotate(-90)" font-family="DejaVu Sans, Liberation Sans, sans-serif" font-size="12" text-anchor="middle">5</text>
<text transform="translate(40.4,234.5) rotate(-90)" font-family="DejaVu Sans, Liberation Sans, sans-serif" font-size="12" text-anchor="middle">10</text>
<text transform="translate(40.4,186.0) rotate(-90)" font-family="DejaVu Sans, Liberation Sans, sans-serif" font-size="12" text-anchor="middle">15</text>
<text transform="translate(40.4,137.5) rotate(-90)" font-family="DejaVu Sans, Liberation Sans, sans-serif" font-size="12" text-anchor="middle">20</text>
<text transform="translate(40.4,89.0) rotate(-90)" font-family="DejaVu Sans, Liberation Sans, sans-serif" font-size="12" text-anchor="middle">25</text>
<text x="600" y="396.8" font-family="DejaVu Sans, Liberation Sans, sans-serif" font-size="12" text-anchor="middle">Elapsed Minutes</text>
<text transform="translate(12,199.6) rotate(-90)" font-family="DejaVu Sans, Liberation Sans, sans-serif" font-size="12" text-anchor="middle" textLength="137.5" lengthAdjust="spacing">Latency in Milliseconds</text>
<text x="600.3" y="26.1" font-family="DejaVu Sans, Liberation Sans, sans-serif" font-size="14.4" font-weight="bold" text-anchor="middle" textLength="250.9" lengthAdjust="spacing">Run #914 of BenchmarkSQL v5</text>
<text x="600.1" y="40.6" font-family="DejaVu Sans, Liberation Sans, sans-serif" font-size="14.4" font-weight="bold" text-anchor="middle" textLength="164.1" lengthAdjust="spacing">Transaction Latency</text>
</svg>
</body></html>
